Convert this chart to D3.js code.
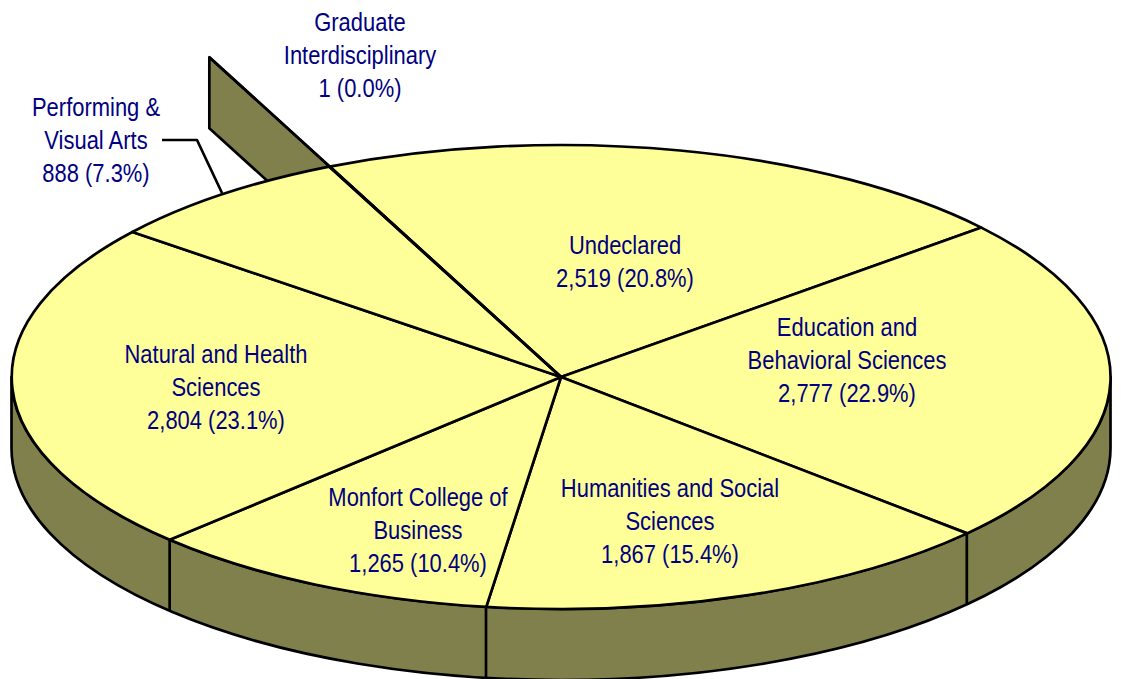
<!DOCTYPE html>
<html>
<head>
<meta charset="utf-8">
<style>
	html, body { margin: 0; padding: 0; background: #fff; }
	svg { display: block; }
	.label { font-family: "Liberation Sans", Arial, sans-serif; font-size: 25px; fill: #000080; text-anchor: middle; }
</style>
<script src="https://cdn.jsdelivr.net/npm/d3@7"></script>
</head>
<body>
<div class="pie-plot"></div>
<script>
const students = [2519, 2777, 1867, 1265, 2804, 888, 1];
const labelLines = [
	['Undeclared'],
	['Education and', 'Behavioral Sciences'],
	['Humanities and Social', 'Sciences'],
	['Monfort College of', 'Business'],
	['Natural and Health', 'Sciences'],
	['Performing &', 'Visual Arts'],
	['Graduate', 'Interdisciplinary']
];

const width = 1121;
const height = 679;
const lineGap = 33;
const depth = 71;
const textSqueeze = 0.878;
const topColor = '#ffff99';
const wallColor = '#80804d';
const strokeWidth = 2.7;

// where each label's first baseline sits
const labelSpots = [[625, 253.6], [847, 335.6], [670, 496.6], [418, 505.6], [216, 362.6], [96, 115.6], [360, 30.6]];

const x = d3.scaleLinear().domain([-1, 1]).range([11.5, 1110.5]);
const y = d3.scaleLinear().domain([-1, 1]).range([145, 609]);

const total = d3.sum(students);
const startAngle = -24.9 * Math.PI / 180;
const pie = d3.pie().sort(null).startAngle(startAngle).endAngle(startAngle + 2 * Math.PI);
const slices = pie(students);

const rimX = (a, r = 1) => x(r * Math.sin(a));
const rimY = (a, r = 1) => y(-r * Math.cos(a));

const svg = d3.select('.pie-plot').append('svg')
	.attr('width', width)
	.attr('height', height);

const line = d3.line();

function outline(selection) {
	selection.attr('stroke', '#000')
		.attr('stroke-width', strokeWidth)
		.attr('stroke-linejoin', 'round');
}

// the very thin last slice is pulled out past the rim
const thin = slices[slices.length - 1];
const pull = 1.52;
const tip = [rimX(thin.endAngle, pull), rimY(thin.endAngle, pull)];
const centre = [x(0), y(0)];

svg.append('path')
	.attr('d', line([tip, [tip[0], tip[1] + depth], [centre[0], centre[1] + depth], centre]) + 'Z')
	.attr('fill', wallColor)
	.call(outline);

// front wall
const rx = (x(1) - x(-1)) / 2;
const ry = (y(1) - y(-1)) / 2;
svg.append('path')
	.attr('d', `M${x(-1)},${y(0)}L${x(-1)},${y(0) + depth}A${rx},${ry} 0 0 0 ${x(1)},${y(0) + depth}L${x(1)},${y(0)}A${rx},${ry} 0 0 1 ${x(-1)},${y(0)}Z`)
	.attr('fill', wallColor)
	.call(outline);

// wall dividers on the slice edges facing front
svg.selectAll('.divider')
	.data(slices.filter(d => Math.cos(d.endAngle) < 0))
	.enter()
	.append('line')
	.attr('class', 'divider')
	.attr('x1', d => rimX(d.endAngle))
	.attr('x2', d => rimX(d.endAngle))
	.attr('y1', d => rimY(d.endAngle))
	.attr('y2', d => rimY(d.endAngle) + depth)
	.call(outline);

// top of the pie, unit arcs stretched into the ellipse
const arc = d3.arc().innerRadius(0).outerRadius(1);
svg.append('g')
	.attr('transform', `translate(${x(0)},${y(0)}) scale(${rx},${ry})`)
	.selectAll('.slice')
	.data(slices)
	.enter()
	.append('path')
	.attr('class', 'slice')
	.attr('d', arc)
	.attr('fill', topColor)
	.attr('stroke', '#000')
	.attr('stroke-width', strokeWidth)
	.attr('stroke-linejoin', 'round')
	.attr('vector-effect', 'non-scaling-stroke');

// radial edge of the thin slice running out to its tip
svg.append('path')
	.attr('d', line([centre, tip]))
	.attr('fill', 'none')
	.call(outline);

// leader for Performing & Visual Arts
svg.append('path')
	.attr('d', line([[162, 140], [197, 140], [222, 193]]))
	.attr('fill', 'none')
	.call(outline);

const labels = svg.selectAll('.label')
	.data(slices)
	.enter()
	.append('text')
	.attr('class', 'label')
	.attr('transform', (d, i) => `translate(${labelSpots[i][0]},${labelSpots[i][1]}) scale(${textSqueeze},1)`);

labels.selectAll('tspan')
	.data((d, i) => labelLines[i].concat(`${d3.format(',')(d.value)} (${d3.format('.1%')(d.value / total)})`))
	.enter()
	.append('tspan')
	.attr('x', 0)
	.attr('y', (d, i) => i * lineGap)
	.text(d => d);
</script>
</body>
</html>
